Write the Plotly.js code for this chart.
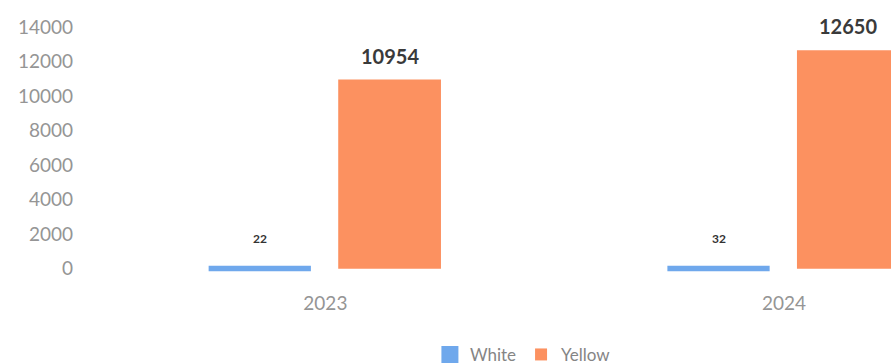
<!DOCTYPE html>
<html>
<head>
<meta charset="utf-8">
<script src="https://cdn.plot.ly/plotly-3.0.1.min.js"></script>
<style>html,body{margin:0;padding:0;background:#fff;}#chart{width:891px;height:364px;}</style>
</head>
<body>
<div id="chart"></div>
<script>
const categories = ["2023", "2024"];
const whiteValues = [22, 32];
const yellowValues = [10954, 12650];
const seriesNames = ["White", "Yellow"];
const yTicks = [0, 2000, 4000, 6000, 8000, 10000, 12000, 14000];
const yTickText = ["0", "2000", "4000", "6000", "8000", "10000", "12000", "14000"];

const whiteWidth = 0.212;
const whiteOffset = -0.249;
const yellowWidth = 0.224;
const yellowOffset = 0.028;
const xPos = categories.map((c, i) => i);

const traces = [
  {
    type: "bar", name: seriesNames[0], x: xPos, y: whiteValues,
    width: whiteWidth, offset: whiteOffset,
    marker: {color: "#6FA8EC", line: {color: "#6FA8EC", width: 5}},
    hoverinfo: "skip"
  },
  {
    type: "bar", name: seriesNames[1], x: xPos, y: yellowValues,
    width: yellowWidth, offset: yellowOffset,
    marker: {color: "#FC9160"},
    hoverinfo: "skip"
  }
];

const annotations = [];
xPos.forEach((x, i) => {
  annotations.push({
    x: x + whiteOffset + whiteWidth / 2, y: whiteValues[i], xref: "x", yref: "y",
    text: String(whiteValues[i]), showarrow: false, yanchor: "middle", yshift: 30,
    font: {family: "Lato, 'DejaVu Sans', sans-serif", size: 12, color: "#333", weight: "bold"}
  });
  annotations.push({
    x: x + yellowOffset + yellowWidth / 2, y: yellowValues[i], xref: "x", yref: "y",
    text: String(yellowValues[i]), showarrow: false, yanchor: "middle", yshift: 24,
    font: {family: "Lato, 'DejaVu Sans', sans-serif", size: 20, color: "#3a3a3a", weight: "bold"}
  });
});

const layout = {
  width: 891, height: 364,
  margin: {l: 96, r: 0, t: 27, b: 91},
  paper_bgcolor: "#fff", plot_bgcolor: "#fff",
  barmode: "overlay",
  showlegend: true,
  font: {family: "Lato, 'DejaVu Sans', sans-serif", color: "#888"},
  xaxis: {
    type: "linear", range: [-0.5, 1.233], automargin: false,
    tickvals: xPos, ticktext: categories,
    showgrid: false, zeroline: false, showline: false, ticks: "",
    ticklabelstandoff: 17,
    tickfont: {size: 19, color: "#959595"}
  },
  yaxis: {
    range: [-250, 14000], automargin: false,
    tickvals: yTicks, ticktext: yTickText,
    showgrid: false, zeroline: false, showline: false, ticks: "",
    ticklabelstandoff: 22,
    tickfont: {size: 19, color: "#959595"}
  },
  legend: {
    orientation: "h", x: 0.537, xanchor: "center",
    yref: "container", y: 0.025, yanchor: "middle",
    font: {size: 17, color: "#858585"}, itemwidth: 30, traceorder: "normal"
  },
  annotations: annotations
};

Plotly.newPlot("chart", traces, layout, {staticPlot: true, displayModeBar: false});
</script>
</body>
</html>
